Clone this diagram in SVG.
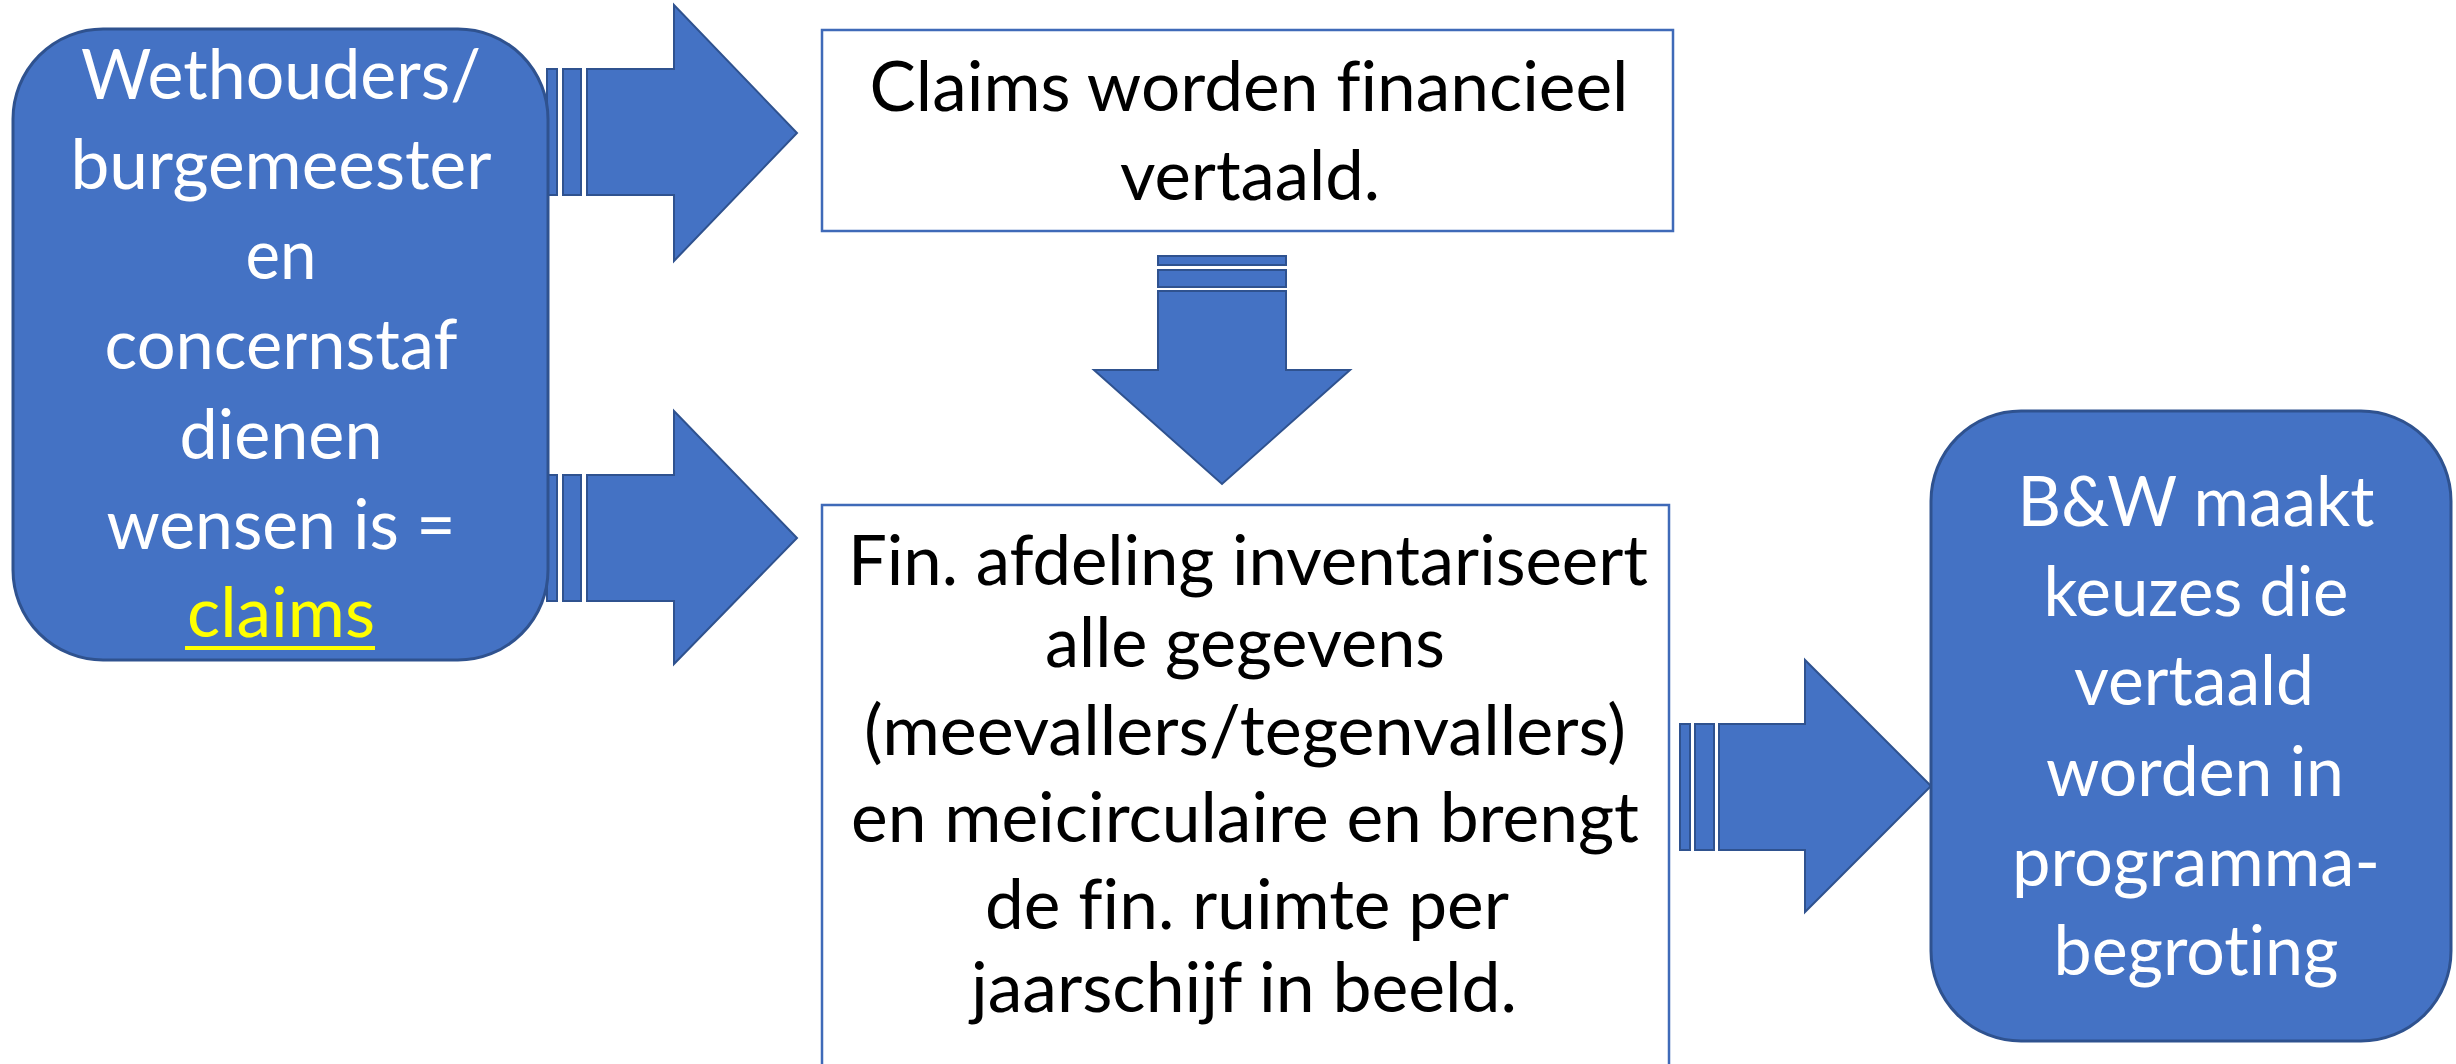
<svg xmlns="http://www.w3.org/2000/svg" width="2456" height="1064" viewBox="0 0 2456 1064">
<style>
.node{fill:#4472C4;stroke:#2F528F;stroke-width:3}
.box{fill:#FFFFFF;stroke:#3F6AB8;stroke-width:2.5}
.arr{fill:#4472C4;stroke:#2F528F;stroke-width:2}
.wt,.bt{font-family:Lato,"Open Sans","Liberation Sans",sans-serif;font-size:70px;text-anchor:middle;font-variant-ligatures:none}
.wt{fill:#FFFFFF}
.bt{fill:#000000}
.yt{fill:#FFFF00}
</style>
<rect width="2456" height="1064" fill="#FFFFFF"/>
<g id="connectors">
  <g id="arrow-left-top">
    <rect class="arr" x="547" y="69" width="10" height="126"/>
    <rect class="arr" x="563" y="69" width="18" height="126"/>
    <polygon class="arr" points="587,69 674,69 674,5 797,133 674,261 674,195 587,195"/>
  </g>
  <g id="arrow-left-bottom">
    <rect class="arr" x="547" y="475" width="10" height="126"/>
    <rect class="arr" x="563" y="475" width="18" height="126"/>
    <polygon class="arr" points="587,475 674,475 674,411 797,538 674,664 674,601 587,601"/>
  </g>
  <g id="arrow-down">
    <rect class="arr" x="1158" y="256" width="128" height="9"/>
    <rect class="arr" x="1158" y="270" width="128" height="17"/>
    <polygon class="arr" points="1158,291 1286,291 1286,370 1350,370 1222,484 1094,370 1158,370"/>
  </g>
  <g id="arrow-right">
    <rect class="arr" x="1680" y="724" width="10" height="126"/>
    <rect class="arr" x="1695" y="724" width="19" height="126"/>
    <polygon class="arr" points="1719,724 1805,724 1805,660 1931,786 1805,912 1805,850 1719,850"/>
  </g>
</g>
<g id="node-wethouders">
  <rect class="node" x="13" y="29" width="535" height="631" rx="90" ry="90"/>
  <text class="wt" x="281" y="99" textLength="400" lengthAdjust="spacingAndGlyphs">Wethouders/</text>
  <text class="wt" x="281" y="189" textLength="421" lengthAdjust="spacingAndGlyphs">burgemeester</text>
  <text class="wt" x="281" y="279" textLength="71" lengthAdjust="spacingAndGlyphs">en</text>
  <text class="wt" x="281" y="369" textLength="353" lengthAdjust="spacingAndGlyphs">concernstaf</text>
  <text class="wt" x="281" y="459" textLength="203" lengthAdjust="spacingAndGlyphs">dienen</text>
  <text class="wt" x="281" y="549" textLength="349" lengthAdjust="spacingAndGlyphs">wensen is =</text>
  <text class="wt yt" x="281" y="637" textLength="188" lengthAdjust="spacingAndGlyphs">claims</text>
  <rect x="185" y="646" width="190" height="4" fill="#FFFF00"/>
</g>
<g id="node-claims-vertaald">
  <rect class="box" x="822" y="30" width="851" height="201"/>
  <text class="bt" x="1249" y="111" textLength="759" lengthAdjust="spacingAndGlyphs">Claims worden financieel</text>
  <text class="bt" x="1250" y="200" textLength="260" lengthAdjust="spacingAndGlyphs">vertaald.</text>
</g>
<g id="node-fin-afdeling">
  <rect class="box" x="822" y="505" width="847" height="600"/>
  <text class="bt" x="1248" y="585" textLength="800" lengthAdjust="spacingAndGlyphs">Fin. afdeling inventariseert</text>
  <text class="bt" x="1245" y="667" textLength="400" lengthAdjust="spacingAndGlyphs">alle gegevens</text>
  <text class="bt" x="1245" y="755" textLength="762" lengthAdjust="spacingAndGlyphs">(meevallers/tegenvallers)</text>
  <text class="bt" x="1245" y="842" textLength="788" lengthAdjust="spacingAndGlyphs">en meicirculaire en brengt</text>
  <text class="bt" x="1247" y="929" textLength="524" lengthAdjust="spacingAndGlyphs">de fin. ruimte per</text>
  <text class="bt" x="1244" y="1012" textLength="546" lengthAdjust="spacingAndGlyphs">jaarschijf in beeld.</text>
</g>
<g id="node-bw">
  <rect class="node" x="1931" y="411" width="520" height="630" rx="90" ry="90"/>
  <text class="wt" x="2196" y="526" textLength="357" lengthAdjust="spacingAndGlyphs">B&amp;W maakt</text>
  <text class="wt" x="2196" y="616" textLength="305" lengthAdjust="spacingAndGlyphs">keuzes die</text>
  <text class="wt" x="2194" y="705" textLength="240" lengthAdjust="spacingAndGlyphs">vertaald</text>
  <text class="wt" x="2195" y="796" textLength="298" lengthAdjust="spacingAndGlyphs">worden in</text>
  <text class="wt" x="2196" y="886" textLength="368" lengthAdjust="spacingAndGlyphs">programma-</text>
  <text class="wt" x="2196" y="975" textLength="285" lengthAdjust="spacingAndGlyphs">begroting</text>
</g>
</svg>
